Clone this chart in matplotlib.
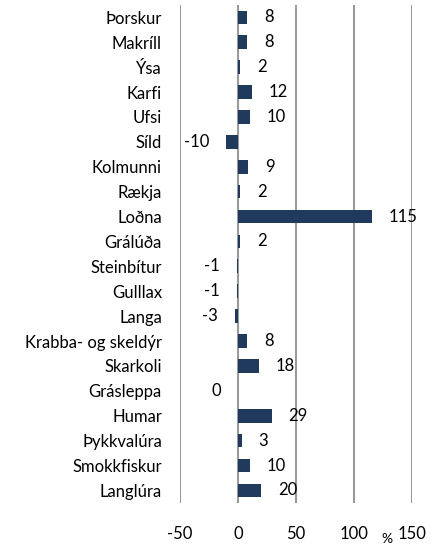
import matplotlib
matplotlib.use("Agg")
import matplotlib.pyplot as plt

categories = ["Þorskur", "Makríll", "Ýsa", "Karfi", "Ufsi", "Síld", "Kolmunni",
              "Rækja", "Loðna", "Grálúða", "Steinbítur", "Gulllax", "Langa",
              "Krabba- og skeldýr", "Skarkoli", "Grásleppa", "Humar",
              "Þykkvalúra", "Smokkfiskur", "Langlúra"]
values = [8, 8, 2, 12, 10, -10, 9, 2, 115, 2, -1, -1, -3, 8, 18, -0.2, 29, 3, 10, 20]
labels = ["8", "8", "2", "12", "10", "-10", "9", "2", "115", "2", "-1", "-1", "-3",
          "8", "18", "0", "29", "3", "10", "20"]
xticks = [-50, 0, 50, 100, 150]

plt.rcParams['font.family'] = ['Lato', 'DejaVu Sans']
plt.rcParams['axes.unicode_minus'] = False
fs = 12

fig = plt.figure(figsize=(4.38, 5.46), dpi=100)
ax = fig.add_axes([0.411, 0.079, 0.53, 0.912])

y = list(range(len(categories)))
ax.barh(y, values, height=0.55, color="#1f3a5c", zorder=3)

for yi, v, lab in zip(y, values, labels):
    if v >= 0:
        ax.annotate(lab, (v, yi), xytext=(12, 0), textcoords="offset points",
                    ha="left", va="center", fontsize=fs, zorder=4)
    else:
        ax.annotate(lab, (v, yi), xytext=(-12, 0), textcoords="offset points",
                    ha="right", va="center", fontsize=fs, zorder=4)

ax.set_xlim(-50, 150)
ax.set_ylim(len(categories) - 0.5, -0.5)
ax.set_xticks(xticks)
ax.set_yticks(y)
ax.set_yticklabels(categories, fontsize=fs)
ax.tick_params(axis="x", length=0, pad=17, labelsize=fs)
ax.tick_params(axis="y", length=0, pad=13)
for s in ax.spines.values():
    s.set_visible(False)
ax.grid(axis="x", color="#9a9a9a", linewidth=1.5, zorder=0)
ax.text(0.89, -0.072, "%", transform=ax.transAxes, ha="center", va="center",
        fontsize=fs - 2)

fig.savefig("out.png", dpi=100)
